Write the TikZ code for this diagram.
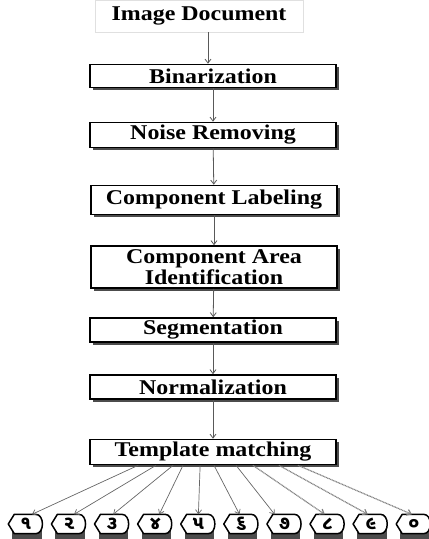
\documentclass[tikz,border=0pt]{standalone}
\usepackage{fontspec}
\setmainfont[FakeStretch=1.14]{Liberation Serif}
\newfontfamily\gujfont[Script=Gujarati]{Noto Sans Gujarati UI}
\usetikzlibrary{shadows,arrows.meta,calc}
\pgfdeclarelayer{background}
\pgfsetlayers{background,main}

\begin{document}
\begin{tikzpicture}[x=1pt,y=-1pt,
  stage/.style={draw, line width=1.6pt, fill=white, minimum width=246pt,
    inner sep=0pt, align=center,
    font=\fontsize{21}{21}\selectfont\bfseries,
    drop shadow={shadow xshift=2.5pt, shadow yshift=-2.5pt, fill=black!70, opacity=1}},
  digit/.style={shape=rectangle, minimum width=35pt, minimum height=19pt, inner sep=0pt,
    font=\gujfont\fontsize{19}{19}\selectfont\bfseries},
  digitframe/.style={draw, line width=1.5pt, fill=white, line join=round},
  digitshade/.style={fill=black!70},
  flow/.style={draw=black!65, line width=0.8pt, -{Straight Barb[length=4pt,width=6pt]}},
  fan/.style={draw=black!60, line width=0.7pt, -{Straight Barb[length=4pt,width=6pt]}},
  fanhatch/.style={fan, line width=1.2pt, draw=black!50, dash pattern=on 1pt off 0.6pt}
]
\useasboundingbox (0,0) rectangle (429,539);

% input label
\node[draw=black!12, line width=0.4pt, minimum width=208pt, minimum height=32pt,
  font=\fontsize{21}{21}\selectfont\bfseries] (doc) at (199,16) {Image Document};

% processing stages
\node[stage, minimum height=23pt] (bin) at (213,76) {Binarization};
\node[stage, minimum height=25pt] (noise) at (213,135) {Noise Removing};
\node[stage, minimum height=29pt] (label) at (214,200) {Component Labeling};
\node[stage, minimum height=42pt] (area) at (214,267) {Component Area\\Identification};
\node[stage, minimum height=24pt] (seg) at (213,330) {Segmentation};
\node[stage, minimum height=24pt] (norm) at (213,387) {Normalization};
\node[stage, minimum height=25pt] (tm) at (213,452) {Template matching};

\draw[flow] (doc.south -| 208,0) -- (bin.north -| 208,0);
\draw[flow] (bin) -- (noise);
\draw[flow] (noise) -- (label);
\draw[flow] (label) -- (area);
\draw[flow] (area) -- (seg);
\draw[flow] (seg) -- (norm);
\draw[flow] (norm) -- (tm);

% recognised digit classes: pointed left end, rounded right end
\foreach \d/\g [count=\i from 0] in {d1/૧,d2/૨,d3/૩,d4/૪,d5/૫,d6/૬,d7/૭,d8/૮,d9/૯,d10/૦} {
  \node[digit] (\d) at ({26+43.1*\i},524) {\g};
  \begin{pgfonlayer}{background}
    \fill[digitshade] ([xshift=4pt,yshift=-6pt]\d.north west) rectangle ([xshift=-2pt,yshift=-5pt]\d.south east);
    \path[digitframe] (\d.west) -- ([xshift=6pt]\d.north west) -- ([xshift=-8pt]\d.north east)
      .. controls ([xshift=1pt]\d.north east) and ([xshift=1pt]\d.south east) .. ([xshift=-8pt]\d.south east)
      -- ([xshift=6pt]\d.south west) -- cycle;
  \end{pgfonlayer}
}

% fan-out from the matcher to each class
\draw[fan] ($(tm.south west)!0.198!(tm.south east)$) -- ([xshift=6pt]d1.north);
\draw[fan] ($(tm.south west)!0.270!(tm.south east)$) -- ([xshift=5pt]d2.north);
\draw[fan] ($(tm.south west)!0.339!(tm.south east)$) -- ([xshift=1pt]d3.north);
\draw[fan] ($(tm.south west)!0.379!(tm.south east)$) -- ([xshift=4pt]d4.north);
\draw[fan] ($(tm.south west)!0.448!(tm.south east)$) -- (d5.north);
\draw[fan] ($(tm.south west)!0.504!(tm.south east)$) -- ([xshift=-2pt]d6.north);
\draw[fan] ($(tm.south west)!0.593!(tm.south east)$) -- ([xshift=-10pt]d7.north);
\draw[fanhatch] ($(tm.south west)!0.661!(tm.south east)$) -- ([xshift=-3pt]d8.north);
\draw[fanhatch] ($(tm.south west)!0.766!(tm.south east)$) -- ([xshift=-3pt]d9.north);
\draw[fanhatch] ($(tm.south west)!0.843!(tm.south east)$) -- ([xshift=-2pt]d10.north);
\end{tikzpicture}
\end{document}
